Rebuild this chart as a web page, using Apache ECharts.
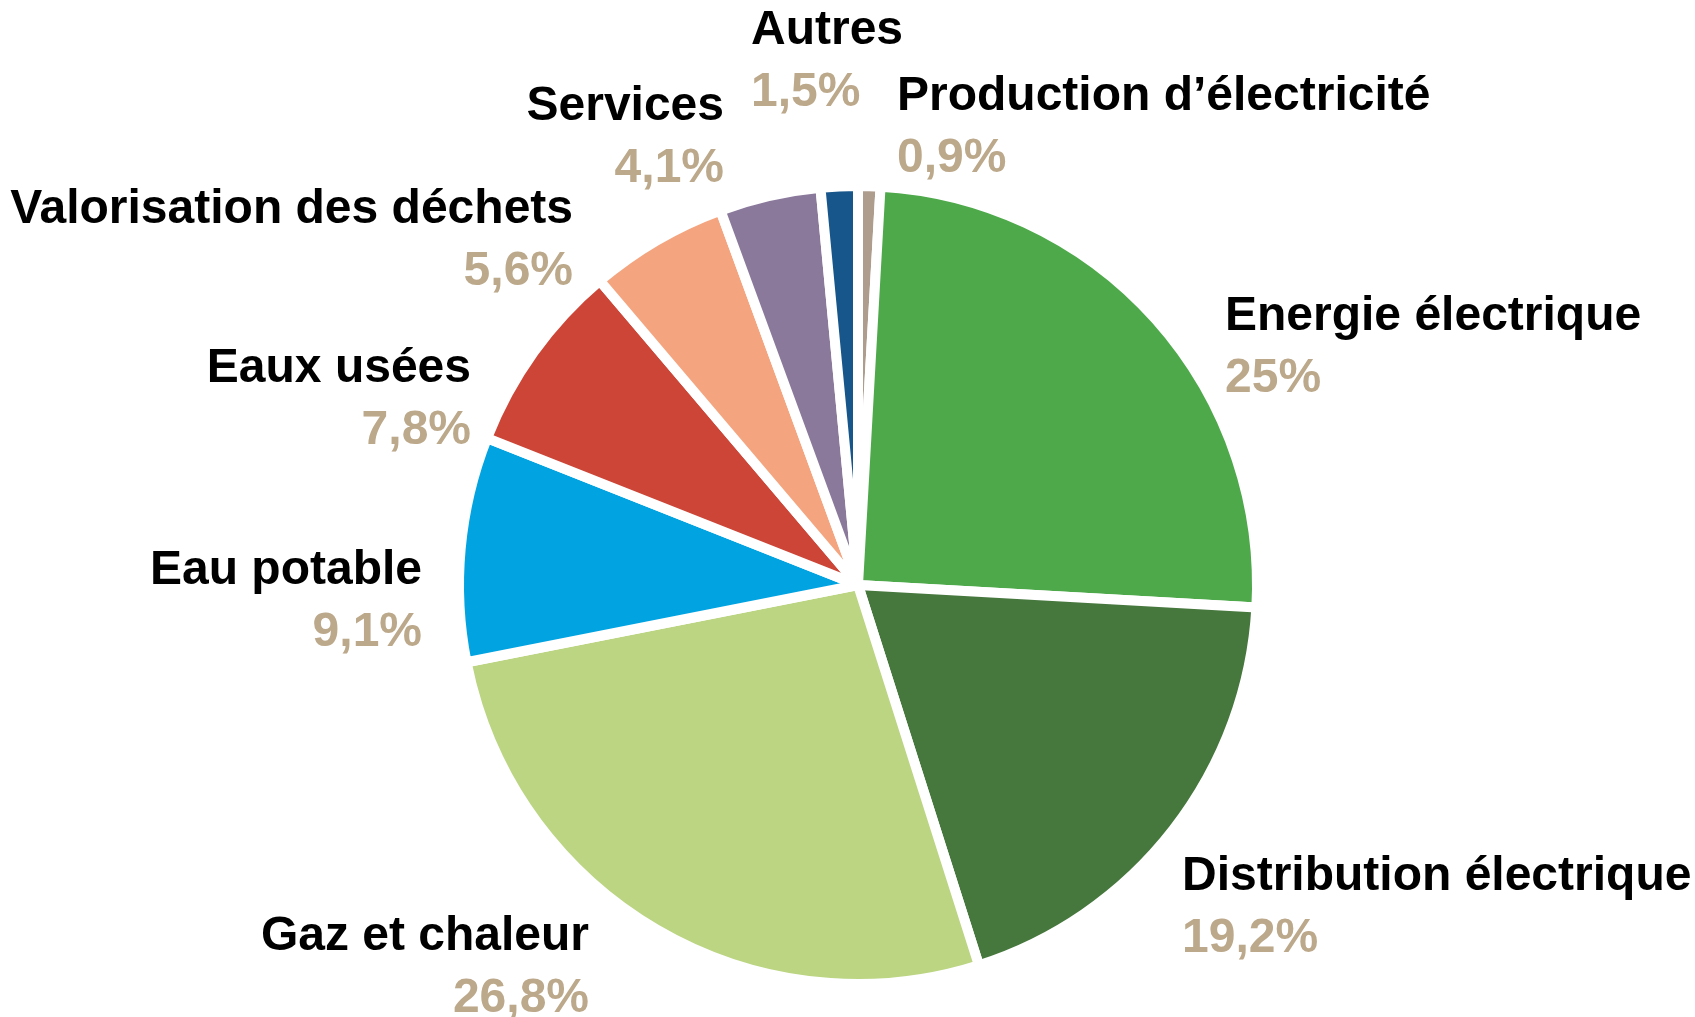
<!DOCTYPE html>
<html lang="fr">
<head>
    <meta charset="UTF-8">
    <title>Répartition</title>
    <script src="https://cdn.jsdelivr.net/npm/echarts@6/dist/echarts.min.js"></script>
    <style>
        html, body { margin: 0; padding: 0; background: #fff; }
        #main { width: 1695px; height: 1017px; }
    </style>
</head>
<body>
<div id="main"></div>
<script>
    // données (parts en %), dans l'ordre horaire depuis midi
    var categories = ['Production d\u2019électricité', 'Energie électrique', 'Distribution électrique',
        'Gaz et chaleur', 'Eau potable', 'Eaux usées', 'Valorisation des déchets', 'Services', 'Autres'];
    var shares = [0.9, 25, 19.2, 26.8, 9.1, 7.8, 5.6, 4.1, 1.5];
    var colors = ['#ae9d8d', '#4ea94b', '#46773d', '#bbd582', '#02a3e1', '#cd4536', '#f4a57f', '#8b799c', '#17568a'];

    // placement des étiquettes : x, haut des majuscules, alignement
    var labelPos = [
        [897, 80, 'left'],
        [1225, 300, 'left'],
        [1182, 860, 'left'],
        [589, 920, 'right'],
        [422, 554, 'right'],
        [471, 352, 'right'],
        [573, 193, 'right'],
        [724, 90, 'right'],
        [751, 14, 'left']
    ];

    var font = '"Liberation Sans", Arial, sans-serif';

    function pct(v) {
        return String(v).replace('.', ',') + '%';
    }

    var data = categories.map(function (name, i) {
        return {
            name: name,
            value: shares[i],
            itemStyle: { color: colors[i] },
            label: { align: labelPos[i][2] }
        };
    });

    var myChart = echarts.init(document.getElementById('main'));
    var option = {
        animation: false,
        series: [{
            type: 'pie',
            center: [858, 585],
            radius: 399,
            startAngle: 90,
            clockwise: true,
            avoidLabelOverlap: false,
            itemStyle: {
                borderColor: '#ffffff',
                borderWidth: 10,
                borderJoin: 'round'
            },
            label: {
                show: true,
                position: 'outside',
                formatter: function (p) {
                    return '{n|' + p.name + '}\n{p|' + pct(p.value) + '}';
                },
                rich: {
                    n: { fontFamily: font, fontSize: 48, fontWeight: 'bold', color: '#000000', lineHeight: 62 },
                    p: { fontFamily: font, fontSize: 48, fontWeight: 'bold', color: '#bca88a', lineHeight: 62 }
                }
            },
            labelLine: { show: false },
            labelLayout: function (params) {
                var lp = labelPos[params.dataIndex];
                return { x: lp[0], y: lp[1] - 14, align: lp[2], verticalAlign: 'top' };
            },
            emphasis: { disabled: true },
            data: data
        }]
    };
    myChart.setOption(option);
</script>
</body>
</html>
